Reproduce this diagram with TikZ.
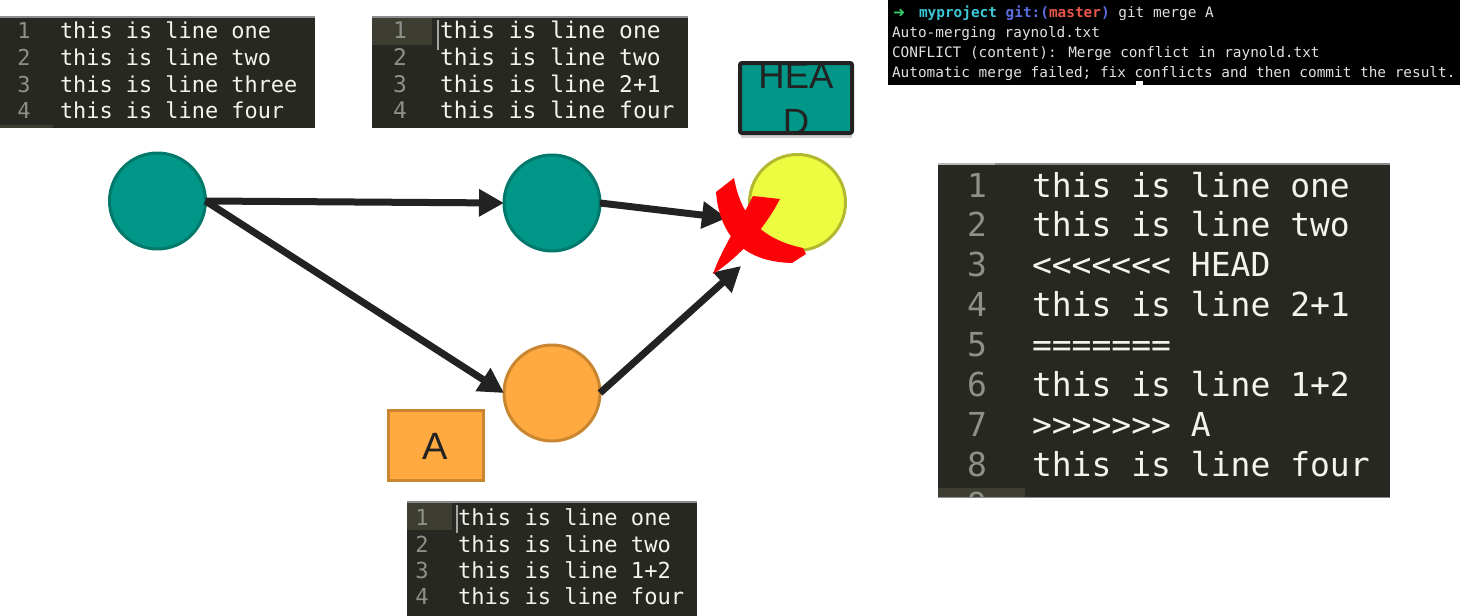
\documentclass[tikz,border=0pt]{standalone}
\usepackage{fontspec}
\setmainfont{Liberation Sans}
\newfontfamily\monofont[Ligatures=TeXOff]{DejaVu Sans Mono}
\newfontfamily\symfont{DejaVu Sans}
\usetikzlibrary{arrows.meta}
\definecolor{edbg}{HTML}{272822}
\definecolor{edtxt}{HTML}{F4F4EE}
\definecolor{ednum}{HTML}{8F908A}
\definecolor{edhl}{HTML}{3E3D32}
\definecolor{edborder}{HTML}{8C8C8C}
\definecolor{cteal}{HTML}{009688}
\definecolor{ctealb}{HTML}{00796B}
\definecolor{cyel}{HTML}{ECFC40}
\definecolor{cyelb}{HTML}{B2B830}
\definecolor{corg}{HTML}{FFAA40}
\definecolor{corgb}{HTML}{C98530}
\definecolor{cdark}{HTML}{222222}
\definecolor{cxred}{HTML}{FC0308}
\definecolor{tgreen}{HTML}{38D06E}
\definecolor{tcyan}{HTML}{3CC8D8}
\definecolor{tblue}{HTML}{5B6EE1}
\definecolor{tred}{HTML}{E8574B}
\definecolor{ttxt}{HTML}{E2E2E2}
\tikzset{
  etxt/.style={text=edtxt, anchor=base west, inner sep=0, outer sep=0},
  enum/.style={text=ednum, anchor=base, inner sep=0, outer sep=0},
  fsA/.style={font=\monofont\fontsize{21.9}{22}\selectfont},
  fsB/.style={font=\monofont\fontsize{22.9}{23}\selectfont},
  fsC/.style={font=\monofont\fontsize{22.1}{22}\selectfont},
  fsD/.style={font=\monofont\fontsize{33}{33}\selectfont},
  term/.style={font=\monofont\fontsize{14.4}{15}\selectfont, text=ttxt, anchor=base west, inner sep=0, outer sep=0},
  commit/.style={circle, minimum size=96pt, inner sep=0, outer sep=0, line width=3pt},
  arr/.style={line width=7pt, draw=cdark, -{Triangle[length=25pt,width=26pt]}},
  xred/.style={fill=cxred, draw=none},
}
\begin{document}
\begin{tikzpicture}[x=1pt,y=-1pt]
\useasboundingbox (0,0) rectangle (1460,616);

% ---------- editor 1 (top left) ----------
\fill[edbg] (0,17) rectangle (315,128);
\fill[edhl] (0,125) rectangle (53,128);
\draw[edborder, line width=1.5pt] (0,17) -- (315,17);
\node[fsA,enum] (e1n1) at (24,38) {1};
\node[fsA,enum] (e1n2) at (24,65) {2};
\node[fsA,enum] (e1n3) at (24,92) {3};
\node[fsA,enum] (e1n4) at (24,118) {4};
\node[fsA,etxt] (e1t1) at (60,38) {this is line one};
\node[fsA,etxt] (e1t2) at (60,65) {this is line two};
\node[fsA,etxt] (e1t3) at (60,92) {this is line three};
\node[fsA,etxt] (e1t4) at (60,118) {this is line four};

% ---------- editor 2 (top middle) ----------
\fill[edbg] (372,17) rectangle (688,128);
\fill[edhl] (372,18) rectangle (432,45);
\draw[edborder, line width=1.5pt] (372,17) -- (688,17);
\draw[ednum!80!white, line width=1.5pt] (438,20) -- (438,50);
\node[fsB,enum] (e2n1) at (400,38) {1};
\node[fsB,enum] (e2n2) at (400,65) {2};
\node[fsB,enum] (e2n3) at (400,92) {3};
\node[fsB,enum] (e2n4) at (400,118) {4};
\node[fsB,etxt] (e2t1) at (440,38) {this is line one};
\node[fsB,etxt] (e2t2) at (440,65) {this is line two};
\node[fsB,etxt] (e2t3) at (440,92) {this is line 2+1};
\node[fsB,etxt] (e2t4) at (440,118) {this is line four};

% ---------- editor 3 (bottom) ----------
\fill[edbg] (407,502) rectangle (697,616);
\fill[edhl] (407,503) rectangle (452,530);
\draw[edborder, line width=1.5pt] (407,502) -- (697,502);
\draw[ednum!80!white, line width=1.5pt] (457,505) -- (457,533);
\node[fsC,enum] (e3n1) at (422,525) {1};
\node[fsC,enum] (e3n2) at (422,552) {2};
\node[fsC,enum] (e3n3) at (422,578) {3};
\node[fsC,enum] (e3n4) at (422,604) {4};
\node[fsC,etxt] (e3t1) at (458,525) {this is line one};
\node[fsC,etxt] (e3t2) at (458,552) {this is line two};
\node[fsC,etxt] (e3t3) at (458,578) {this is line 1+2};
\node[fsC,etxt] (e3t4) at (458,604) {this is line four};

% ---------- terminal ----------
\fill[black] (888,0) rectangle (1460,85);
\node[term, text=tgreen, font=\symfont\bfseries\fontsize{14.4}{15}\selectfont] (tarrow) at (893,17) {➜};
\node[term] (tl1) at (919,17) {{\bfseries\color{tcyan}myproject} {\bfseries\color{tblue}git:(}{\bfseries\color{tred}master}{\bfseries\color{tblue})} git merge A};
\node[term] (tl2) at (892,37) {Auto-merging raynold.txt};
\node[term] (tl3) at (892,57) {CONFLICT (content): Merge conflict in raynold.txt};
\node[term] (tl4) at (892,77) {Automatic merge failed; fix conflicts and then commit the result.};
\fill[white] (1136,81) rectangle (1143,85);

% ---------- editor 4 (big, right) ----------
\fill[edbg] (938,164) rectangle (1390,497);
\fill[edhl] (938,488) rectangle (1025,497);
\draw[edborder, line width=1.5pt] (938,164) -- (1390,164);
\draw[edborder!60!white, line width=1.5pt] (938,164) -- (995,164);
\draw[edborder, line width=1pt] (938,497) -- (1390,497);
\foreach \i/\t in {1/this is line one, 2/this is line two, 3/{<<<<<<< HEAD}, 4/this is line 2+1, 5/{=======}, 6/this is line 1+2, 7/{>>>>>>> A}, 8/this is line four}{
  \node[fsD,enum] (e4n\i) at (977,{197+39.9*(\i-1)}) {\i};
  \node[fsD,etxt] (e4t\i) at (1032,{197+39.9*(\i-1)}) {\t};
}
\begin{scope}
\clip (938,488) rectangle (1025,496);
\node[fsD,enum] (e4n9) at (977,516) {9};
\end{scope}

% ---------- commits ----------
\node[commit, fill=cteal, draw=ctealb] (c1) at (157.5,201) {};
\node[commit, fill=cteal, draw=ctealb] (c2) at (552,203) {};
\node[commit, fill=cyel, draw=cyelb] (c3) at (797.5,202.5) {};
\node[commit, fill=corg, draw=corgb] (c4) at (552,393) {};

% ---------- labels ----------
\fill[black, opacity=0.18] (741,66) rectangle (852,138);
\node[rectangle, minimum width=112pt, minimum height=70pt, inner sep=0, outer sep=0, fill=cteal] (head) at (796,98) {};
\begin{scope}
\clip (head.south west) rectangle (head.north east);
\node[anchor=base, inner sep=0, text=cdark, font=\fontsize{36.5}{37}\selectfont] (headl1) at (796,88) {HEA};
\node[anchor=base, inner sep=0, text=cdark, font=\fontsize{36.5}{37}\selectfont] (headl2) at (796,134) {D};
\end{scope}
\draw[cdark, line width=4pt, rounded corners=2pt] (head.south west) rectangle (head.north east);

\node[rectangle, minimum width=95pt, minimum height=70pt, inner sep=0, outer sep=0, fill=corg, draw=corgb, line width=3pt] (abox) at (436,445.5) {};
\node[anchor=base, inner sep=0, text=cdark, font=\fontsize{38}{38}\selectfont] (alabel) at (435,459) {A};

% ---------- connectors ----------
\coordinate (t1) at (727,218);
\coordinate (t2) at (741,266);
\draw[arr] (c1.east) -- (c2.west);
\draw[arr] (c1.east) -- (c4.west);
\draw[arr] (c2.east) -- (t1);
\draw[arr] (c4.east) -- (t2);

% ---------- red X ----------
\path[xred] (716,192) -- (734,178) .. controls (740,210) and (755,238) .. (803,248) -- (806,254) -- (792,263) .. controls (748,262) and (720,240) .. (716,192) -- cycle;
\path[xred] (753,196) -- (780,199) .. controls (766,226) and (742,255) .. (713,274) .. controls (722,248) and (740,222) .. (753,196) -- cycle;
\end{tikzpicture}
\end{document}
